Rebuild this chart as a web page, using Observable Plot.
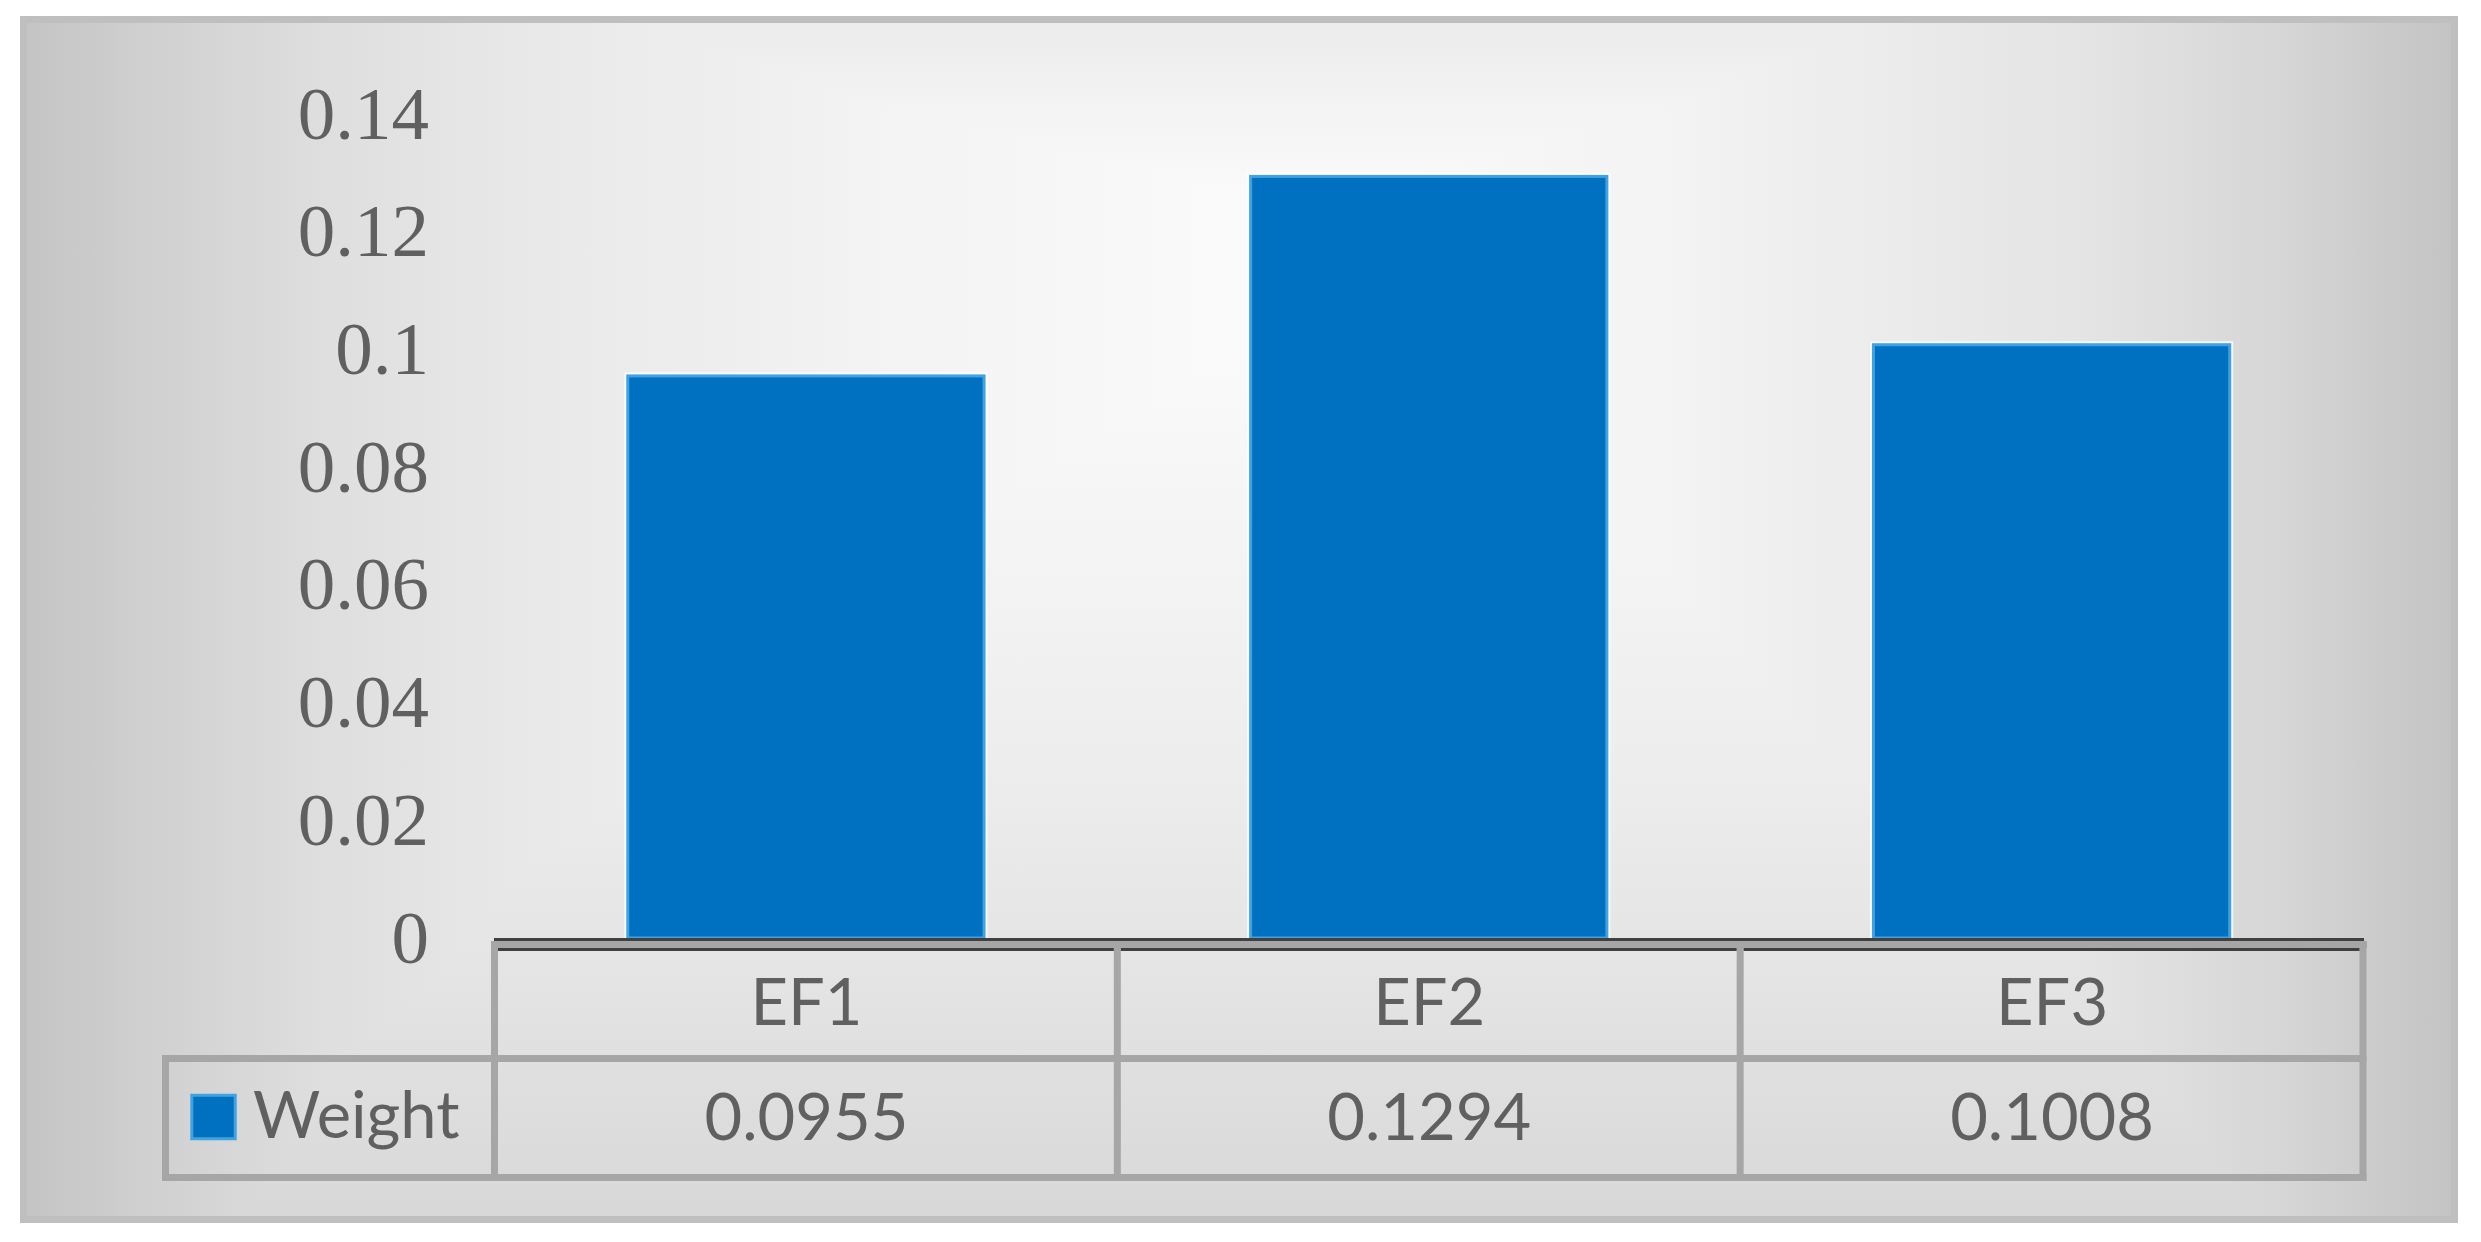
<!DOCTYPE html>
<html>
<head>
<meta charset="utf-8">
<script src="https://cdn.jsdelivr.net/npm/d3@7"></script>
<script src="https://cdn.jsdelivr.net/npm/@observablehq/plot@0.6"></script>
<style>
  html, body { margin: 0; padding: 0; background: #ffffff; overflow: hidden; }
  #wrap { position: relative; width: 2481px; height: 1242px; }
  #panel {
    position: absolute; left: 20px; top: 16px; width: 2438px; height: 1207px;
    box-sizing: border-box; border: 7px solid #bfbfbf;
    background-image:
      linear-gradient(to right, #c4c4c4 0%, #cecece 4%, #dedede 12%, #e8e8e8 20%, #f3f3f3 35%, #fbfbfb 52%, #f3f3f3 68%, #e4e4e4 85%, #d6d6d6 93%, #c4c4c4 100%),
      linear-gradient(to bottom, #ececec 0%, #fbfbfb 15%, #fbfbfb 25%, #eeeeee 60%, #e4e4e4 80%, #d8d8d8 100%);
    background-blend-mode: darken;
  }
  #chart { position: absolute; left: 0; top: 0; }
  #chart svg [aria-label^="y-axis"] text {
    font-family: "Liberation Serif", "Times New Roman", serif;
    font-size: 75px;
    fill: #606060;
  }
</style>
</head>
<body>
<div id="wrap">
  <div id="panel"></div>
  <div id="chart"></div>
</div>
<script>
// ---- data ----
const categories = ["EF1", "EF2", "EF3"];
const weights = [0.0955, 0.1294, 0.1008];
const weightLabels = ["0.0955", "0.1294", "0.1008"];
const seriesName = "Weight";
const yTicks = [0, 0.02, 0.04, 0.06, 0.08, 0.1, 0.12, 0.14];
const yTickLabels = ["0", "0.02", "0.04", "0.06", "0.08", "0.1", "0.12", "0.14"];

const rows = categories.map((c, i) => ({cat: c, w: weights[i], label: weightLabels[i]}));

const W = 2481, H = 1242;
const blue = "#0070c0";
const textColor = "#606060";
const tableFont = "Lato, 'Open Sans', sans-serif";

const plot = Plot.plot({
  width: W,
  height: H,
  marginLeft: 494.5,
  marginRight: 118,
  marginTop: 114,
  marginBottom: 304,
  style: {background: "transparent", overflow: "visible"},
  x: {type: "band", domain: categories, paddingInner: 0.428, paddingOuter: 0.214, round: false, axis: null},
  y: {domain: [0, 0.14], ticks: yTicks, tickFormat: (d) => yTickLabels[yTicks.indexOf(d)] ?? String(d),
      tickSize: 0, tickPadding: 66, label: null, line: false},
  marks: [
    // soft glow around bars
    Plot.barY(rows, {x: "cat", y: "w", fill: "none", stroke: "#ffffff", strokeOpacity: 0.75, strokeWidth: 7}),
    Plot.barY(rows, {x: "cat", y: "w", fill: blue, stroke: "#41a2e2", strokeWidth: 3}),
    // table header row: category names
    Plot.text(rows, {x: "cat", text: "cat", frameAnchor: "bottom", lineAnchor: "middle", dy: 66,
      fontSize: 65, fontFamily: tableFont, fill: textColor}),
    // table value row
    Plot.text(rows, {x: "cat", text: "label", frameAnchor: "bottom", lineAnchor: "middle", dy: 181,
      fontSize: 65, fontFamily: tableFont, fill: textColor}),
    // legend key in table
    Plot.dot([seriesName], {frameAnchor: "bottom-left", dx: -281.5, dy: 178.5, symbol: "square", r: 24.5,
      fill: blue, stroke: "#41a2e2", strokeWidth: 3}),
    Plot.text([seriesName], {text: (d) => d, frameAnchor: "bottom-left", textAnchor: "start", lineAnchor: "middle",
      dx: -242, dy: 179, fontSize: 65, fontFamily: tableFont, fill: textColor})
  ]
});

document.getElementById("chart").appendChild(plot);

// ---- data-table grid drawn from the plot's own scales ----
const xs = plot.scale("x");
const ys = plot.scale("y");
const step = xs.step ?? ((xs.range[1] - xs.range[0]) / categories.length);
const gap = (step - xs.bandwidth) / 2;
const bounds = categories.map((c) => xs.apply(c) - gap);
bounds.push(xs.apply(categories[categories.length - 1]) + xs.bandwidth + gap);
const y0 = ys.apply(0);
const xL = bounds[0] - 329;
const xR = bounds[bounds.length - 1];
const gray = "#a6a6a6", dark = "#404040";

const g = d3.select(plot).append("g").attr("aria-label", "data table grid");
const line = (x1, y1, x2, y2, stroke, w) =>
  g.append("line").attr("x1", x1).attr("y1", y1).attr("x2", x2).attr("y2", y2)
   .attr("stroke", stroke).attr("stroke-width", w);

// top gray border of table
line(bounds[0] - 3.5, y0 + 6.5, xR + 4, y0 + 6.5, gray, 7);
// vertical column lines
bounds.forEach((b) => line(b, y0 + 5, b, y0 + 243, gray, 7));
// legend column left line
line(xL, y0 + 117, xL, y0 + 243, gray, 7);
// row divider and bottom line
line(xL - 3.5, y0 + 120.5, xR + 3.5, y0 + 120.5, gray, 7);
line(xL - 3.5, y0 + 239.5, xR + 3.5, y0 + 239.5, gray, 7);
// second dark line, interrupted by the columns
for (let i = 0; i < bounds.length - 1; i++) {
  line(bounds[i] + 3.5, y0 + 11.5, bounds[i + 1] - 3.5, y0 + 11.5, dark, 3);
}
// category axis (baseline)
line(bounds[0] - 0.5, y0 + 1.5, xR + 1, y0 + 1.5, dark, 3);
</script>
</body>
</html>
